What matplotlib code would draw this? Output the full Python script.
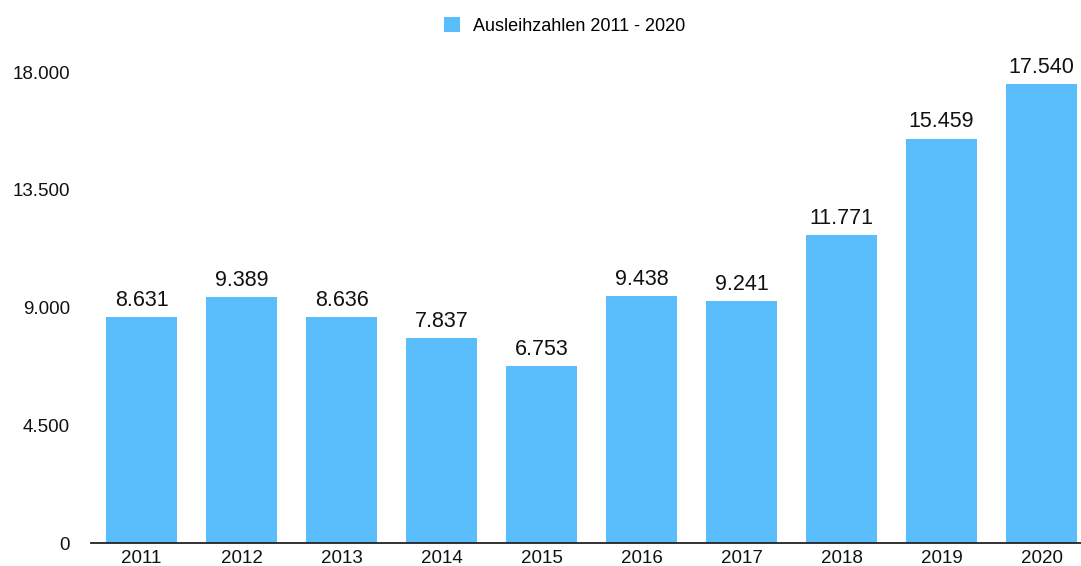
import matplotlib
matplotlib.use("Agg")
import matplotlib.pyplot as plt
from matplotlib.ticker import FuncFormatter

plt.rcParams['font.family'] = ['Liberation Sans', 'DejaVu Sans']

years = ['2011', '2012', '2013', '2014', '2015', '2016', '2017', '2018', '2019', '2020']
loans = [8631, 9389, 8636, 7837, 6753, 9438, 9241, 11771, 15459, 17540]
y_ticks = [0, 4500, 9000, 13500, 18000]
series_name = 'Ausleihzahlen 2011 - 2020'
bar_color = '#59BEFB'


def de_format(v):
    return f'{int(v):,}'.replace(',', '.')


fig = plt.figure(figsize=(10.81, 5.66), dpi=100)
ax = fig.add_axes([0.0842, 0.0406, 0.9158, 0.8320])

x = list(range(len(years)))
bars = ax.bar(x, loans, width=0.71, color=bar_color, label=series_name, zorder=2)

for rect, v in zip(bars, loans):
    ax.annotate(de_format(v), (rect.get_x() + rect.get_width() / 2, rect.get_height()),
                xytext=(0, 4.5), textcoords='offset points', ha='center', va='bottom',
                fontsize=15.5, color='#111111', annotation_clip=False)

ax.set_xlim(-0.505, 9.395)
ax.set_ylim(0, 18000)
ax.set_xticks(x)
ax.set_xticklabels(years)
ax.set_yticks(y_ticks)
ax.yaxis.set_major_formatter(FuncFormatter(lambda v, p: de_format(v)))
ax.tick_params(axis='both', length=0, labelsize=13.5, colors='#111111')
ax.tick_params(axis='y', pad=15)
ax.tick_params(axis='x', pad=5)

for side in ['top', 'right', 'left']:
    ax.spines[side].set_visible(False)
ax.spines['bottom'].set_color('#222222')
ax.spines['bottom'].set_linewidth(1.3)

fig.legend(loc='upper center', bbox_to_anchor=(0.522, 0.998), frameon=False,
           handlelength=0.9, handleheight=0.9, handletextpad=0.7, fontsize=13)

fig.savefig('out.png', dpi=100)
